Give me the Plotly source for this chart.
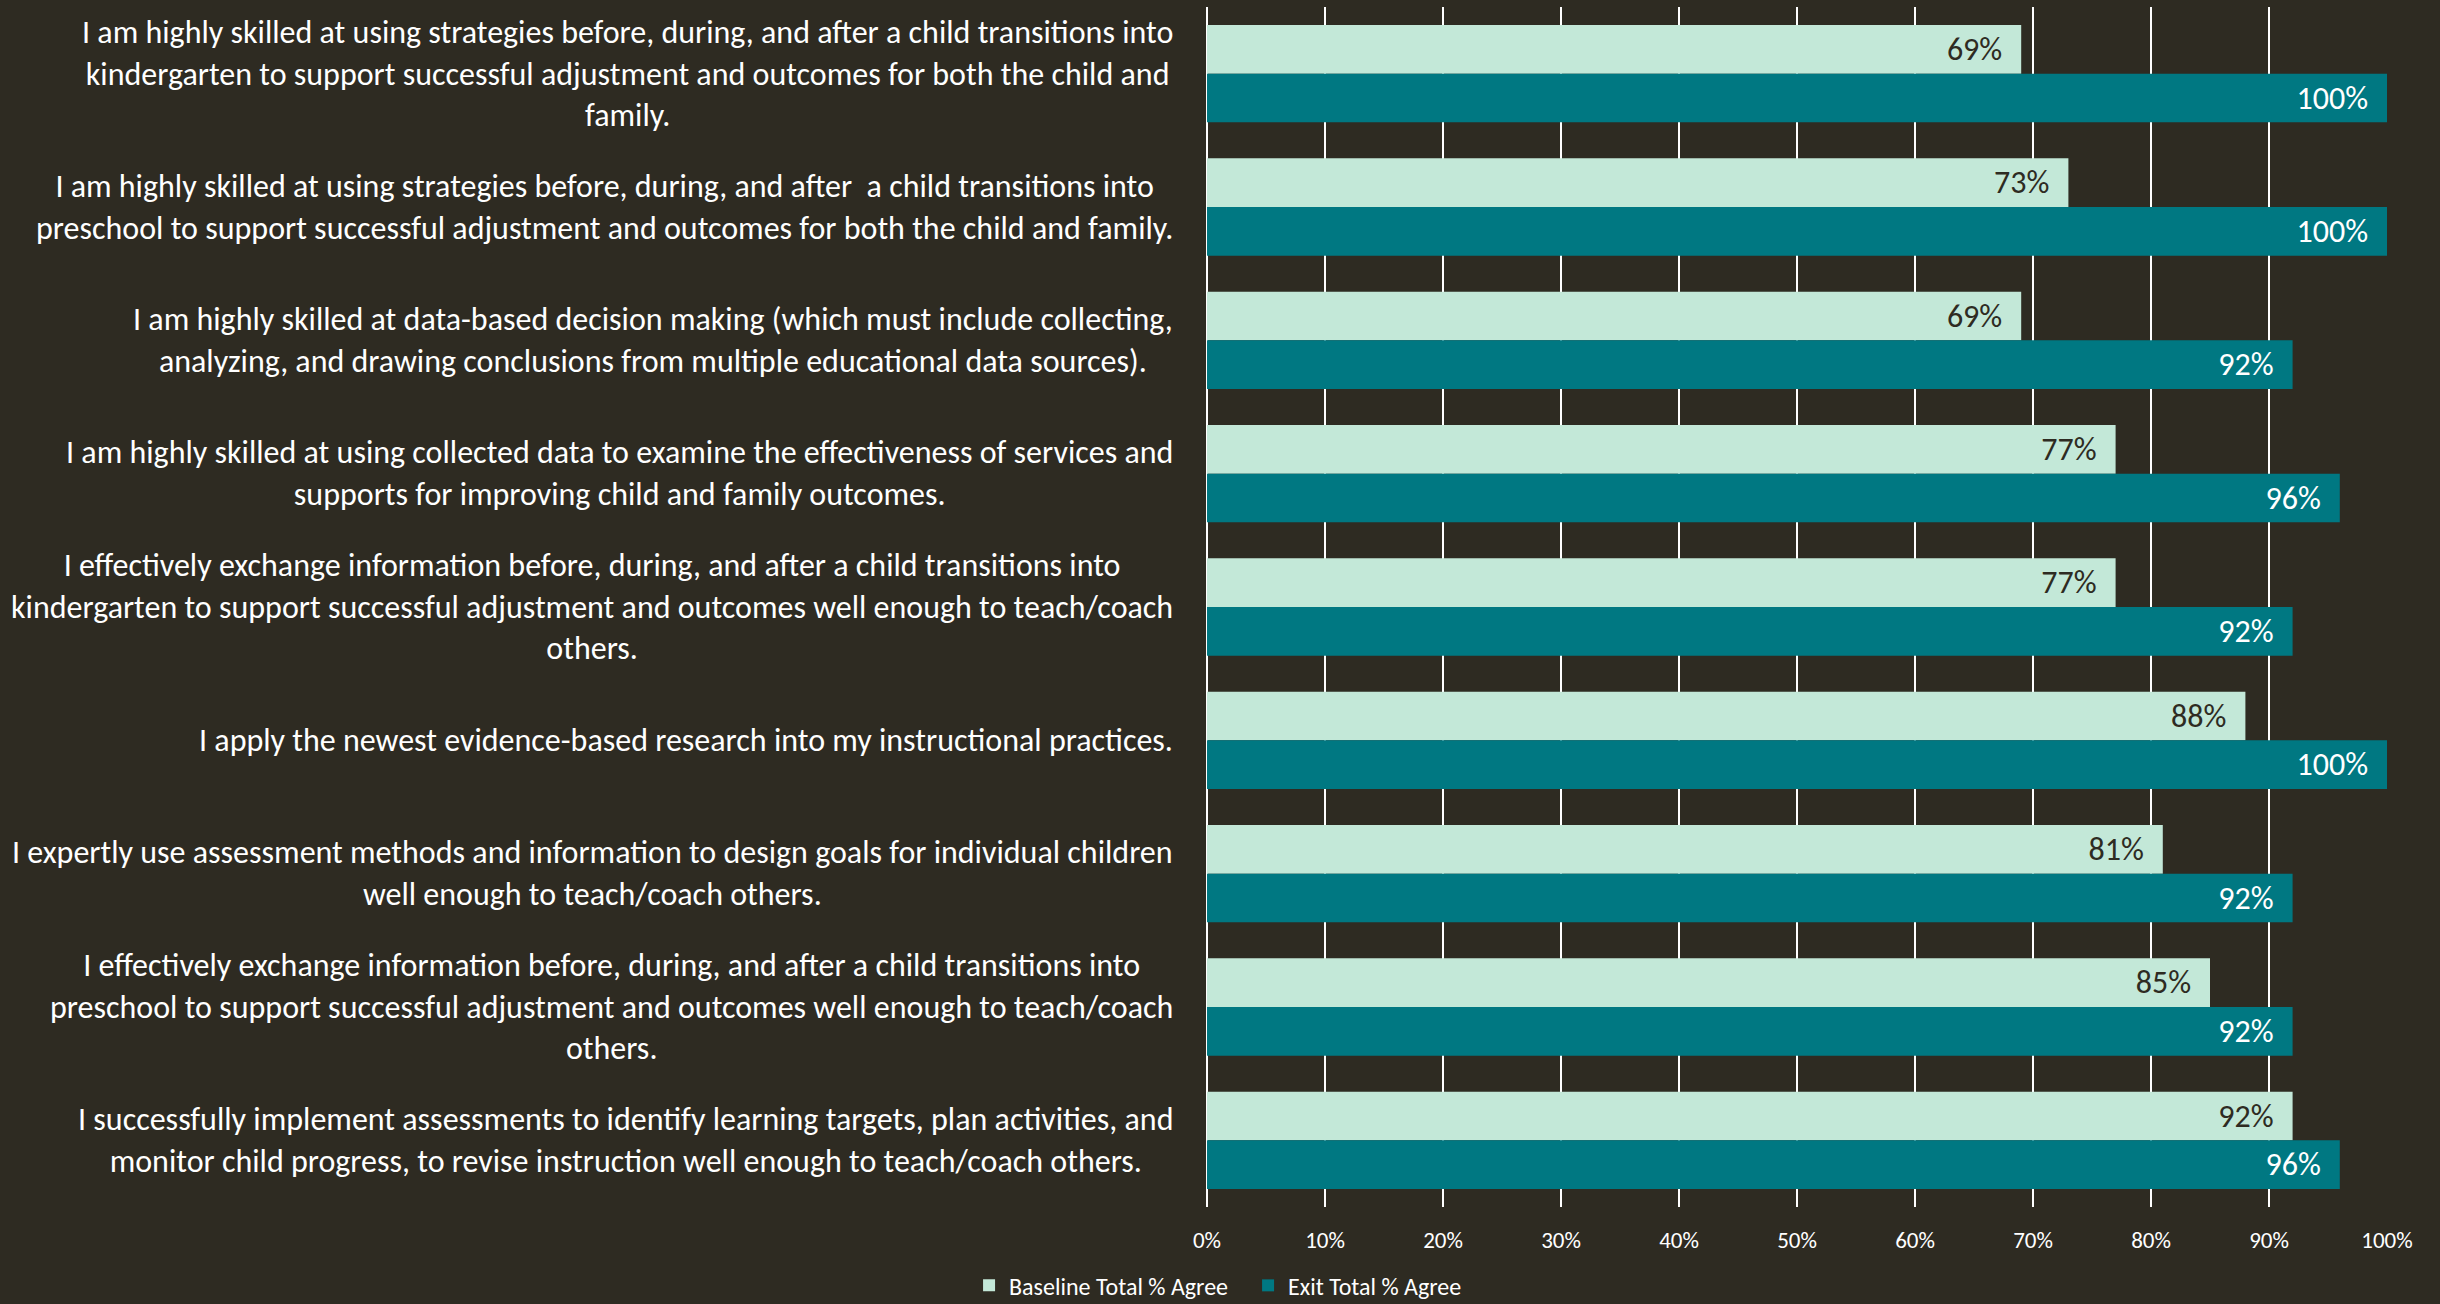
import plotly.graph_objects as go

# Survey statements (line breaks as shown on the chart)
statements = [
    "I am highly skilled at using strategies before, during, and after a child transitions into<br>kindergarten to support successful adjustment and outcomes for both the child and<br>family.",
    "I am highly skilled at using strategies before, during, and after  a child transitions into<br>preschool to support successful adjustment and outcomes for both the child and family.",
    "I am highly skilled at data-based decision making (which must include collecting,<br>analyzing, and drawing conclusions from multiple educational data sources).",
    "I am highly skilled at using collected data to examine the effectiveness of services and<br>supports for improving child and family outcomes.",
    "I effectively exchange information before, during, and after a child transitions into<br>kindergarten to support successful adjustment and outcomes well enough to teach/coach<br>others.",
    "I apply the newest evidence-based research into my instructional practices.",
    "I expertly use assessment methods and information to design goals for individual children<br>well enough to teach/coach others.",
    "I effectively exchange information before, during, and after a child transitions into<br>preschool to support successful adjustment and outcomes well enough to teach/coach<br>others.",
    "I successfully implement assessments to identify learning targets, plan activities, and<br>monitor child progress, to revise instruction well enough to teach/coach others.",
]
categories = [f"s{i}" for i in range(len(statements))]

baseline_pct = [69, 73, 69, 77, 77, 88, 81, 85, 92]
exit_pct = [100, 100, 92, 96, 92, 100, 92, 92, 96]

tick_vals = [0, 10, 20, 30, 40, 50, 60, 70, 80, 90, 100]
tick_text = [f"{v}%" for v in tick_vals]

BG = "#2e2b22"
MINT = "#c3e8d8"
TEAL = "#007882"
FONT = "Carlito, Lato, sans-serif"

# value labels with a little trailing space so they sit inset from the bar end
pad = "\u2002"
baseline_text = [f"{v}%{pad}" for v in baseline_pct]
exit_text = [f"{v}%{pad}" for v in exit_pct]

fig = go.Figure()
fig.add_trace(go.Bar(
    y=categories, x=baseline_pct, orientation="h",
    name="Baseline Total % Agree",
    marker=dict(color=MINT, line=dict(width=0)),
    text=baseline_text, textposition="inside", insidetextanchor="end",
    textfont=dict(color="#2e2b22", size=32, family=FONT),
    hoverinfo="x+name",
))
fig.add_trace(go.Bar(
    y=categories, x=exit_pct, orientation="h",
    name="Exit Total % Agree",
    marker=dict(color=TEAL, line=dict(width=0)),
    text=exit_text, textposition="inside", insidetextanchor="end",
    textfont=dict(color="#ffffff", size=32, family=FONT),
    hoverinfo="x+name",
))

# Statement labels, centred per line and right-aligned against the plot area
for cat, text in zip(categories, statements):
    fig.add_annotation(
        x=0, xref="paper", y=cat, yref="y",
        text=text, showarrow=False,
        xanchor="right", yanchor="middle", align="center",
        xshift=-32,
        font=dict(color="#ffffff", size=32, family=FONT),
    )

fig.update_layout(
    width=2440, height=1304,
    paper_bgcolor=BG, plot_bgcolor=BG,
    margin=dict(l=1207, r=53, t=7, b=97),
    barmode="group", bargap=0.27, bargroupgap=0,
    font=dict(family=FONT, color="#ffffff"),
    showlegend=True,
    legend=dict(
        orientation="h", xref="container", x=0.5115, xanchor="center",
        yref="container", y=0.014, yanchor="middle",
        font=dict(size=24, color="#ffffff", family=FONT),
        bgcolor="rgba(0,0,0,0)", traceorder="normal",
        itemwidth=30, entrywidth=234, entrywidthmode="pixels",
    ),
    xaxis=dict(
        range=[0, 100], tickvals=tick_vals, ticktext=tick_text,
        showgrid=True, gridcolor="#ffffff", gridwidth=2,
        zeroline=True, zerolinecolor="#ffffff", zerolinewidth=2,
        showline=False,
        ticks="", tickfont=dict(size=23, color="#ffffff", family=FONT),
        ticklabelstandoff=17, fixedrange=True,
    ),
    yaxis=dict(
        autorange="reversed", showticklabels=False, showgrid=False,
        zeroline=False, showline=False, ticks="",
    ),
)

fig.write_html("out.html")
